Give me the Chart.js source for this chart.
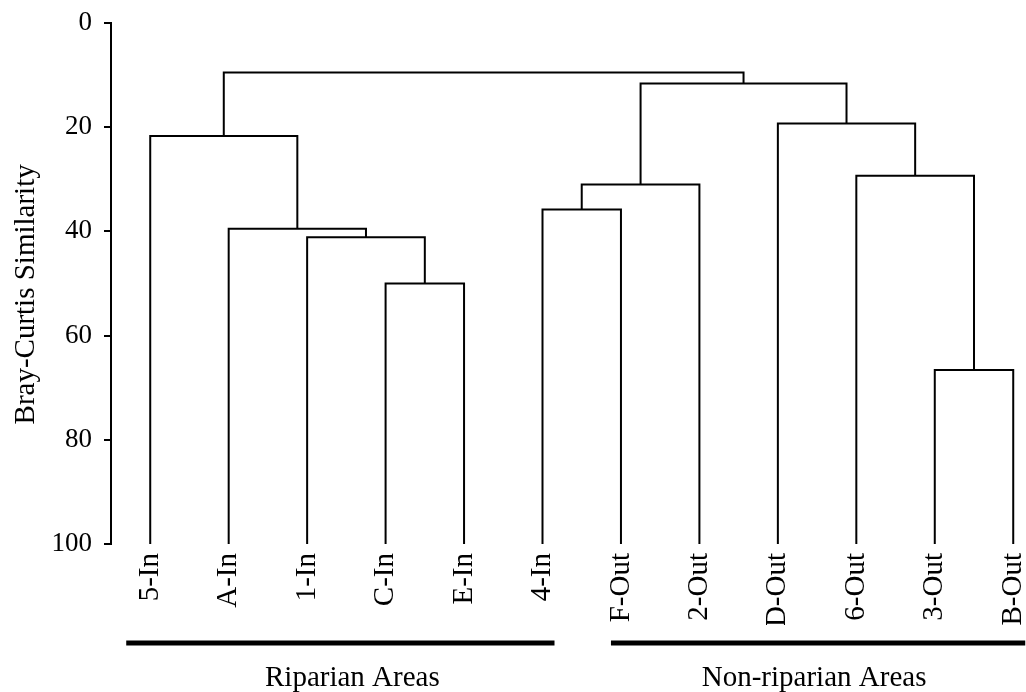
<!DOCTYPE html>
<html>
<head>
<meta charset="utf-8">
<script src="https://cdn.jsdelivr.net/npm/chart.js@4"></script>
<style>
  html, body { margin: 0; padding: 0; background: #fff; }
  #wrap { width: 1026px; height: 692px; }
</style>
</head>
<body>
<div id="wrap"><canvas id="dendro"></canvas></div>
<script>
// leaves, left to right
const leafLabels = ['5-In', 'A-In', '1-In', 'C-In', 'E-In', '4-In',
                    'F-Out', '2-Out', 'D-Out', '6-Out', '3-Out', 'B-Out'];

// merges: node ids 0..11 are leaves, each merge creates node 12, 13, ...
const mergeLeft   = [3, 2, 1, 0, 10, 5, 17, 9, 8, 18, 15];
const mergeRight  = [4, 12, 13, 14, 11, 6, 7, 16, 19, 20, 21];
const mergeHeight = [50.0, 41.1, 39.5, 21.7, 66.6, 35.8, 31.0, 29.3, 19.3, 11.6, 9.5];

// groups under the labels
const groupNames = ['Riparian Areas', 'Non-riparian Areas'];
const groupFirst = [0, 6];
const groupLast  = [5, 11];

const serif = "'Liberation Serif', 'Times New Roman', serif";

// x position and height of every node
const nodeX = leafLabels.map((_, i) => i);
const nodeH = leafLabels.map(() => 100);
mergeLeft.forEach((l, k) => {
    nodeX.push((nodeX[l] + nodeX[mergeRight[k]]) / 2);
    nodeH.push(mergeHeight[k]);
});

// one U shaped line per merge
const datasets = mergeLeft.map((l, k) => {
    const r = mergeRight[k];
    const h = mergeHeight[k];
    return {
        data: [
            { x: nodeX[l], y: nodeH[l] },
            { x: nodeX[l], y: h },
            { x: nodeX[r], y: h },
            { x: nodeX[r], y: nodeH[r] }
        ],
        showLine: true,
        borderColor: '#000',
        borderWidth: 2,
        borderJoinStyle: 'miter',
        pointRadius: 0,
        tension: 0,
        clip: false
    };
});

// thick bars + group names below the leaf labels
const groupBars = {
    id: 'groupBars',
    afterDraw(chart) {
        const { ctx, chartArea, scales } = chart;
        const overhangLeft = [24, 10];
        const overhangRight = 12;
        const textShift = [12, -4];
        ctx.save();
        groupNames.forEach((name, i) => {
            const x1 = scales.x.getPixelForValue(groupFirst[i]) - overhangLeft[i];
            const x2 = scales.x.getPixelForValue(groupLast[i]) + overhangRight;
            const yBar = chartArea.bottom + 99;
            ctx.strokeStyle = '#000';
            ctx.lineWidth = 5;
            ctx.beginPath();
            ctx.moveTo(x1, yBar);
            ctx.lineTo(x2, yBar);
            ctx.stroke();
            ctx.fillStyle = '#000';
            ctx.font = '29px ' + serif;
            ctx.textAlign = 'center';
            ctx.textBaseline = 'alphabetic';
            ctx.fillText(name, (x1 + x2) / 2 + textShift[i], chartArea.bottom + 142);
        });
        ctx.restore();
    }
};

new Chart(document.getElementById('dendro'), {
    type: 'scatter',
    data: { datasets },
    plugins: [groupBars],
    options: {
        responsive: true,
        maintainAspectRatio: false,
        animation: false,
        layout: { padding: { top: 23, right: 1, bottom: 67, left: 0 } },
        plugins: {
            legend: { display: false },
            tooltip: { enabled: false }
        },
        scales: {
            x: {
                type: 'linear',
                min: -0.5,
                max: 11.15,
                afterBuildTicks: (scale) => {
                    scale.ticks = leafLabels.map((_, i) => ({ value: i }));
                },
                afterFit: (scale) => {
                    scale.height = 81;
                    scale.paddingLeft = 0;
                    scale.paddingRight = 0;
                },
                grid: { display: false, drawTicks: false },
                border: { display: false },
                ticks: {
                    autoSkip: false,
                    minRotation: 90,
                    maxRotation: 90,
                    padding: 9,
                    color: '#000',
                    font: { family: serif, size: 29 },
                    callback: (v) => leafLabels[v]
                }
            },
            y: {
                reverse: true,
                min: 0,
                max: 100,
                afterFit: (scale) => {
                    scale.width = 111;
                    scale.paddingTop = 0;
                    scale.paddingBottom = 0;
                },
                grid: {
                    drawOnChartArea: false,
                    drawTicks: true,
                    tickLength: 7,
                    color: '#000',
                    lineWidth: 2
                },
                border: { display: true, color: '#000', width: 2 },
                ticks: {
                    stepSize: 20,
                    padding: 12,
                    color: '#000',
                    font: { family: serif, size: 27 }
                },
                title: {
                    display: true,
                    // trailing spaces push the text a bit lower, as in the original
                    text: 'Bray-Curtis Similarity   ',
                    color: '#000',
                    padding: { top: 9, bottom: 0 },
                    font: { family: serif, size: 29 }
                }
            }
        }
    }
});
</script>
</body>
</html>
